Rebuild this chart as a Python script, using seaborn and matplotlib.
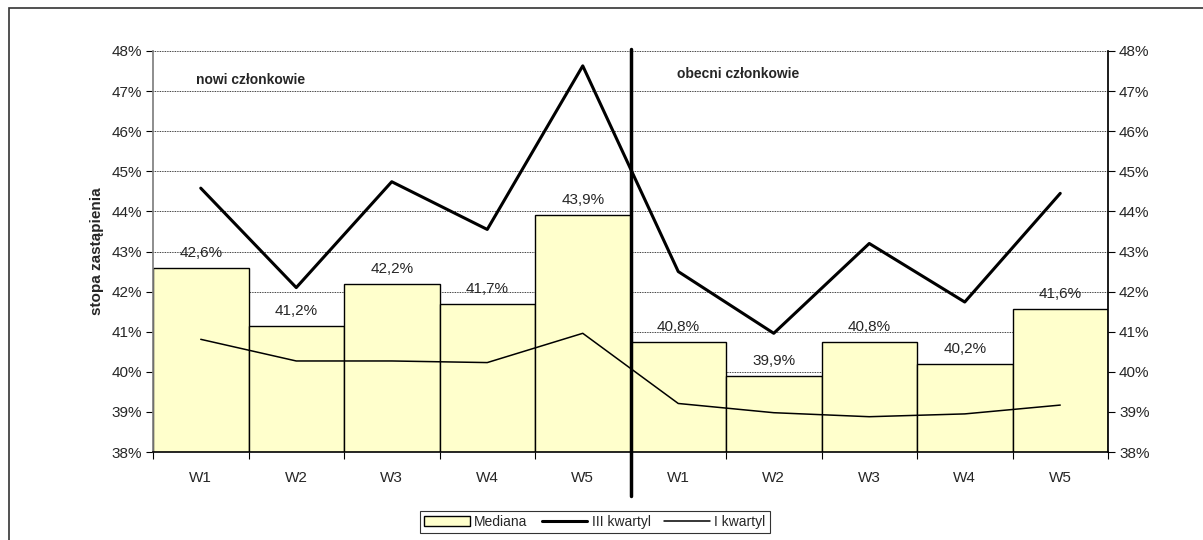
import numpy as np
import pandas as pd
import matplotlib
matplotlib.use("Agg")
import matplotlib.pyplot as plt
import seaborn as sns
from matplotlib.patches import Patch, Rectangle
from matplotlib.lines import Line2D

categories = ["W1", "W2", "W3", "W4", "W5", "W1", "W2", "W3", "W4", "W5"]
mediana = [42.6, 41.15, 42.2, 41.7, 43.9, 40.75, 39.9, 40.75, 40.2, 41.56]
mediana_labels = ["42,6%", "41,2%", "42,2%", "41,7%", "43,9%", "40,8%", "39,9%", "40,8%", "40,2%", "41,6%"]
q3 = [44.58, 42.1, 44.74, 43.55, 47.63, 42.5, 40.96, 43.2, 41.74, 44.45]
q1 = [40.81, 40.27, 40.27, 40.23, 40.96, 39.21, 38.98, 38.88, 38.95, 39.17]
group_labels = ["nowi członkowie", "obecni członkowie"]
yticks = list(range(38, 49))

sns.set_theme(style="white")
plt.rcParams["font.family"] = ["Liberation Sans", "DejaVu Sans"]

pos = list(range(len(categories)))
df = pd.DataFrame({"pos": pos, "mediana": mediana, "q3": q3, "q1": q1})

fig = plt.figure(figsize=(12.03, 5.4), dpi=100)
ax = fig.add_axes([153/1203, 1-452/540, (1108-153)/1203, (452-51)/540])

sns.barplot(data=df, x="pos", y="mediana", ax=ax, width=1.0, color="#FFFFCC",
            edgecolor="black", linewidth=1.0, saturation=1, zorder=2)
for p in ax.patches:
    p.set_facecolor("#FFFFCC")
sns.lineplot(data=df, x="pos", y="q3", ax=ax, color="black", linewidth=2.2, zorder=4)
sns.lineplot(data=df, x="pos", y="q1", ax=ax, color="black", linewidth=1.1, zorder=4)

fs = 11
ax.set_ylim(38, 48)
ax.set_xlim(-0.5, 9.5)
ax.set_yticks(yticks)
ax.set_yticklabels([f"{t}%" for t in yticks], fontsize=fs)
ax.yaxis.grid(True, color="black", linestyle=(0, (1, 1)), linewidth=0.6)
ax.set_axisbelow(True)
ax.set_xticks(pos)
ax.set_xticklabels(categories, fontsize=fs)
ax.tick_params(axis="x", length=0, pad=14)
ax.set_xticks([i + 0.5 for i in range(-1, 10)], minor=True)
ax.tick_params(axis="x", which="minor", length=5, direction="out", color="black", width=0.8, bottom=True)
ax.tick_params(axis="y", length=5, direction="out", left=True, color="black", width=0.8, pad=3)
ax.set_xlabel("")
ax.set_ylabel("stopa zastąpienia", fontsize=fs, fontweight="bold", labelpad=5)
for s in ["top", "right"]:
    ax.spines[s].set_visible(False)
ax.spines["left"].set_color("#808080")
ax.spines["bottom"].set_color("black")
ax.spines["bottom"].set_linewidth(1.2)

for x, v, lab in zip(pos, mediana, mediana_labels):
    ax.text(x, v + 0.2, lab, ha="center", va="bottom", fontsize=fs, zorder=5)

ax2 = ax.twinx()
ax2.set_ylim(38, 48)
ax2.set_yticks(yticks)
ax2.set_yticklabels([f"{t}%" for t in yticks], fontsize=fs)
ax2.tick_params(axis="y", length=5, direction="out", right=True, color="black", width=0.8, pad=3)
for s in ["top", "left", "bottom"]:
    ax2.spines[s].set_visible(False)
ax2.spines["right"].set_color("black")
ax2.grid(False)

# separator
ax.plot([4.5, 4.5], [48.05, 36.9], color="black", linewidth=2.5, clip_on=False, zorder=6)

ax.text(-0.05, 47.28, group_labels[0], fontsize=10, fontweight="bold", ha="left", va="center")
ax.text(4.99, 47.42, group_labels[1], fontsize=10, fontweight="bold", ha="left", va="center")

handles = [Patch(facecolor="#FFFFCC", edgecolor="black", linewidth=1.0),
           Line2D([], [], color="black", linewidth=2.2),
           Line2D([], [], color="black", linewidth=1.1)]
leg = fig.legend(handles, ["Mediana", "III kwartyl", "I kwartyl"], ncol=3, loc="center",
                 bbox_to_anchor=(595/1203, 1-522/540), fontsize=10, frameon=True,
                 fancybox=False, edgecolor="black", handlelength=3.3, handletextpad=0.3,
                 columnspacing=1.0, borderpad=0.3)
leg.get_frame().set_linewidth(0.8)

fig.patches.append(Rectangle((9/1203, -0.1), 1.2, 1-8/540+0.1, transform=fig.transFigure,
                             fill=False, edgecolor="#333333", linewidth=1.2))

fig.savefig("out.png", dpi=100)
